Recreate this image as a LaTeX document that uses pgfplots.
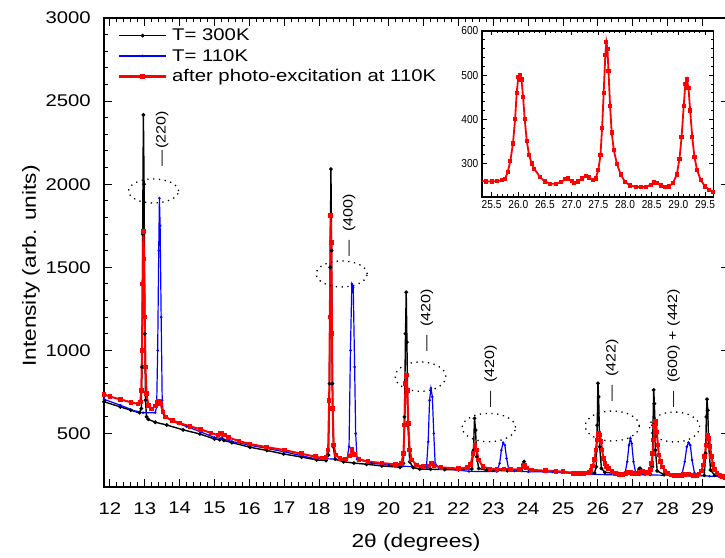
\documentclass[border=0pt]{standalone}
\usepackage{pgfplots}
\pgfplotsset{compat=1.18}
\usepackage{pgfplotstable}
\usepackage{fontspec}
\setmainfont{Liberation Sans}
\newfontfamily\wide{Liberation Sans}[FakeStretch=1.2]
\newfontfamily\narrow{Liberation Sans}[FakeStretch=0.88]
\newcommand\tickfont{\wide\fontsize{17}{19}\selectfont}
\newcommand\legfont{\wide\fontsize{17}{19}\selectfont}
\newcommand\labfont{\wide\fontsize{19}{22}\selectfont}
\newcommand\peakfont{\wide\fontsize{13.5}{15}\selectfont}
\newcommand\insetfont{\narrow\fontsize{11.6}{13}\selectfont}

\pgfplotstableread{
x y
11.83 691
12.3 660
12.6 640
12.85 625
12.9 650
12.92 900
12.94 1700
12.96 2417
12.98 2000
13.0 1100
13.02 700
13.05 600
13.1 585
13.3 568
13.63 551
14.1 522
14.58 497
15.0 467
15.15 462
15.21 471
15.27 458
15.5 445
16.02 417
16.5 398
16.98 377
17.5 358
17.93 341
18.2 337
18.27 370
18.3 800
18.32 1500
18.34 2091
18.36 1600
18.38 800
18.41 420
18.46 345
18.7 330
19.0 322
19.36 315
19.8 305
20.32 297
20.42 320
20.45 600
20.48 1100
20.5 1350
20.52 1050
20.55 550
20.6 330
20.7 295
20.89 286
21.2 285
21.6 283
22.0 281
22.38 286
22.43 400
22.46 591
22.49 520
22.52 360
22.58 290
22.8 279
23.4 276
23.8 279
23.85 315
23.88 331
23.93 300
24.05 277
24.5 273
25.0 268
25.5 263
25.9 262
25.95 300
25.98 550
26.0 802
26.02 720
26.05 420
26.1 290
26.2 266
26.6 258
27.0 256
27.13 262
27.18 285
27.21 291
27.25 280
27.35 258
27.5 255
27.56 300
27.58 550
27.6 762
27.62 680
27.65 400
27.7 275
27.9 252
28.3 247
28.8 244
29.05 248
29.09 380
29.11 600
29.13 706
29.15 640
29.18 420
29.23 280
29.35 248
29.5 242
29.76 236
}\blacktab

\pgfplotstableread{
x y
11.83 706
12.3 670
12.77 631
12.95 625
13.3 625
13.34 660
13.37 1000
13.4 1600
13.42 1916
13.44 1750
13.47 1200
13.5 700
13.53 620
13.6 600
13.8 572
14.2 542
14.6 510
15.0 476
15.2 470
15.5 452
16.0 430
16.5 410
17.0 390
17.5 366
17.85 350
18.8 344
18.86 420
18.9 1000
18.94 1400
18.98 1380
19.02 900
19.05 500
19.09 345
19.5 322
20.0 310
20.4 303
21.08 298
21.13 450
21.17 700
21.21 772
21.25 720
21.29 500
21.33 320
21.45 290
22.0 280
22.3 272
23.1 271
23.18 320
23.23 400
23.28 445
23.33 430
23.38 350
23.44 285
23.6 274
24.0 270
24.7 268
24.75 276
24.8 267
25.5 256
26.6 250
26.78 262
26.84 330
26.89 430
26.93 471
26.97 440
27.02 330
27.08 265
27.2 252
28.3 247
28.42 262
28.49 330
28.55 420
28.6 445
28.65 430
28.7 340
28.77 262
28.85 248
29.2 243
29.76 240
}\bluetab

\pgfplotstableread{
x y
11.83 735
12.0 722
12.3 705
12.6 688
12.8 678
12.87 690
12.9 760
12.92 1000
12.94 1400
12.96 1716
12.98 1550
13.0 1200
13.02 900
13.05 740
13.1 670
13.2 648
13.3 665
13.37 690
13.4 694
13.45 680
13.52 630
13.6 598
13.8 578
14.0 562
14.3 543
14.6 525
14.9 503
15.1 490
15.18 499
15.22 503
15.28 490
15.4 476
15.7 455
16.0 437
16.5 418
17.0 400
17.5 378
17.9 360
18.1 352
18.2 356
18.26 400
18.29 700
18.31 1200
18.33 1812
18.35 1650
18.37 1100
18.39 650
18.42 430
18.48 370
18.6 350
18.75 346
18.88 365
18.95 405
19.02 375
19.15 345
19.4 331
19.8 322
20.2 314
20.36 318
20.42 380
20.45 550
20.48 800
20.5 852
20.53 760
20.56 560
20.6 400
20.66 340
20.8 310
21.0 300
21.15 305
21.23 321
21.3 308
21.5 296
22.0 289
22.25 294
22.35 315
22.42 380
22.47 431
22.52 400
22.58 340
22.7 300
22.9 287
23.1 284
23.3 287
23.5 283
23.75 285
23.85 298
23.89 306
23.95 292
24.1 281
24.5 276
24.8 273
25.0 270
25.3 261
25.4 259
25.5 259
25.6 260
25.7 262
25.75 265
25.8 280
25.85 305
25.9 345
25.94 400
25.97 460
26.0 495
26.03 500
26.06 490
26.09 450
26.12 400
26.16 350
26.2 320
26.25 300
26.3 288
26.4 270
26.5 259
26.6 254
26.7 254
26.8 258
26.88 264
26.93 266
27.0 260
27.05 256
27.12 259
27.2 266
27.27 271
27.33 268
27.4 262
27.45 266
27.5 285
27.54 320
27.57 380
27.6 460
27.63 545
27.65 575
27.67 560
27.69 510
27.72 430
27.75 370
27.79 330
27.85 298
27.92 275
28.0 258
28.1 250
28.2 247
28.3 246
28.4 247
28.48 252
28.55 257
28.6 256
28.67 250
28.75 246
28.82 248
28.9 256
28.97 275
29.02 310
29.06 360
29.1 430
29.13 480
29.16 490
29.19 470
29.22 420
29.26 360
29.3 315
29.35 285
29.42 262
29.5 248
29.58 240
29.65 236
}\redtab

\begin{document}
\begin{tikzpicture}
\begin{axis}[
  at={(0,0)}, anchor=south west,
  scale only axis, width=625bp, height=469bp,
  xmin=11.83, xmax=29.76, ymin=178, ymax=3000,
  xtick={12,...,29}, ytick={500,1000,1500,2000,2500,3000},
  minor x tick num=4, minor y tick num=4,
  tick align=inside,
  major tick length=8bp, minor tick length=4.5bp,
  axis line style={line width=1.4bp},
  tick style={black, line width=1bp},
  /pgf/number format/assume math mode=true,
  /pgf/number format/1000 sep={},
  ticklabel style={font=\tickfont},
  xticklabel style={inner sep=0pt, yshift=-15bp},
  yticklabel style={inner sep=0pt, xshift=-13bp},
  xlabel={2θ (degrees)},
  ylabel={Intensity (arb. units)},
  xlabel style={at={(axis description cs:0.4992,-0.1194)}, anchor=center, font=\labfont},
  ylabel style={at={(axis description cs:-0.1168,0.471)}, anchor=center, font=\labfont},
  legend style={at={(0.0224,0.977)}, anchor=north west, draw=none, fill=none,
    inner sep=0pt, font=\legfont, row sep=7bp, nodes={inner sep=0pt},
    /tikz/every odd column/.append style={column sep=5bp}},
  legend cell align=left,
  legend image code/.code={\draw[mark repeat=2,mark phase=2,#1] plot coordinates {(0bp,0bp) (23.5bp,0bp) (47bp,0bp)};},
]
\addplot[black, line width=1.4bp, mark=*, mark size=1.1bp] table {\blacktab};
\addlegendentry{T= 300K}
\addplot[blue, line width=1.2bp, mark=*, mark size=0.6bp] table {\bluetab};
\addlegendentry{T= 110K}
\addplot[red, line width=2bp, mark=square*, mark size=1.3bp] table {\redtab};
\addlegendentry{after photo-excitation at 110K}

\begin{scope}[black, line width=1.3bp, dash pattern=on 1.3bp off 4.5bp]
\draw (axis cs:13.25,1959) ellipse [x radius=25bp, y radius=12bp];
\draw (axis cs:18.65,1460) ellipse [x radius=25.5bp, y radius=13bp];
\draw (axis cs:20.91,842) ellipse [x radius=25.3bp, y radius=14.7bp];
\draw (axis cs:22.87,536) ellipse [x radius=26.7bp, y radius=14.2bp];
\draw (axis cs:26.41,545) ellipse [x radius=27bp, y radius=15bp];
\draw (axis cs:28.2,539) ellipse [x radius=25bp, y radius=15bp];
\end{scope}
\node[rotate=90, anchor=west, inner sep=0pt, font=\peakfont] at (axis cs:13.50,2103) {—\,(220)};
\node[rotate=90, anchor=west, inner sep=0pt, font=\peakfont] at (axis cs:18.86,1562) {— \ (400)};
\node[rotate=90, anchor=west, inner sep=0pt, font=\peakfont] at (axis cs:21.09,990) {— \ (420)};
\node[rotate=90, anchor=west, inner sep=0pt, font=\peakfont] at (axis cs:22.92,655) {— \ (420)};
\node[rotate=90, anchor=west, inner sep=0pt, font=\peakfont] at (axis cs:26.41,691) {— \ (422)};
\node[rotate=90, anchor=west, inner sep=0pt, font=\peakfont] at (axis cs:28.17,655) {— \ (600) + (442)};
\end{axis}

\begin{axis}[
  at={(378bp,290bp)}, anchor=south west,
  scale only axis, width=231.6bp, height=166bp,
  xmin=25.32, xmax=29.66, ymin=224, ymax=600,
  xtick={25.5,26,26.5,27,27.5,28,28.5,29,29.5},
  ytick={300,400,500,600},
  minor x tick num=4, minor y tick num=4,
  tick align=inside,
  major tick length=4.5bp, minor tick length=2.5bp,
  axis line style={line width=1.1bp},
  tick style={black, line width=0.8bp},
  axis background/.style={fill=white},
  /pgf/number format/assume math mode=true,
  ticklabel style={font=\insetfont},
  xticklabel style={inner sep=0pt, yshift=-3bp, /pgf/number format/fixed, /pgf/number format/fixed zerofill, /pgf/number format/precision=1},
  yticklabel style={inner sep=0pt, xshift=-3.5bp},
]
\addplot[red, line width=1.8bp, mark=square*, mark size=1.2bp] table {\redtab};
\end{axis}
\pgfresetboundingbox
\path[use as bounding box] (-104bp,-71bp) rectangle (621bp,487bp);
\end{tikzpicture}
\end{document}
